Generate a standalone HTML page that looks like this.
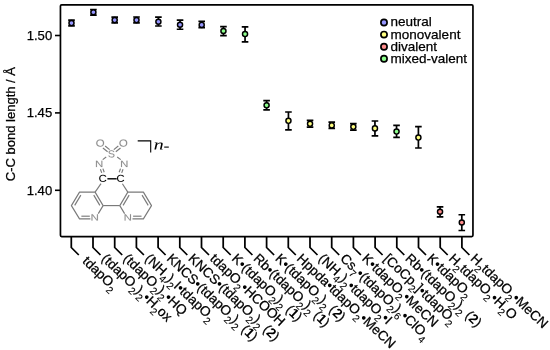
<!DOCTYPE html>
<html><head><meta charset="utf-8"><title>C-C bond length</title>
<style>html,body{margin:0;padding:0;background:#fff;}body{width:550px;height:350px;overflow:hidden;}svg{display:block;will-change:transform;}text{font-family:"Liberation Sans",sans-serif;fill:#000;}.ser{font-family:"Liberation Serif",serif;font-style:italic;}.g{fill:#8a8a8a;}.bd{stroke:#000;stroke-width:0.25px;}</style></head><body>
<svg width="550" height="350" viewBox="0 0 550 350">
<rect width="550" height="350" fill="#fff"/>
<rect x="60.45" y="4.90" width="412.50" height="231.65" fill="none" stroke="#000" stroke-width="1.70" stroke-linejoin="round" rx="1.2"/>
<line x1="55.0" y1="35.50" x2="60.45" y2="35.50" stroke="#000" stroke-width="1.60"/>
<text x="52.2" y="39.90" font-size="13.1" text-anchor="end" class="bd">1.50</text>
<line x1="55.0" y1="112.90" x2="60.45" y2="112.90" stroke="#000" stroke-width="1.60"/>
<text x="52.2" y="117.30" font-size="13.1" text-anchor="end" class="bd">1.45</text>
<line x1="55.0" y1="190.30" x2="60.45" y2="190.30" stroke="#000" stroke-width="1.60"/>
<text x="52.2" y="194.70" font-size="13.1" text-anchor="end" class="bd">1.40</text>
<text transform="translate(15.3,181.2) rotate(-90)" font-size="13" class="bd">C-C bond length / &#197;</text>
<polyline points="71.30,236.55 71.30,247.50 78.80,255.00" fill="none" stroke="#000" stroke-width="1.75" stroke-linejoin="miter"/>
<polyline points="93.00,236.55 93.00,247.50 100.50,255.00" fill="none" stroke="#000" stroke-width="1.75" stroke-linejoin="miter"/>
<polyline points="114.70,236.55 114.70,247.50 122.20,255.00" fill="none" stroke="#000" stroke-width="1.75" stroke-linejoin="miter"/>
<polyline points="136.40,236.55 136.40,247.50 143.90,255.00" fill="none" stroke="#000" stroke-width="1.75" stroke-linejoin="miter"/>
<polyline points="158.10,236.55 158.10,247.50 165.60,255.00" fill="none" stroke="#000" stroke-width="1.75" stroke-linejoin="miter"/>
<polyline points="179.80,236.55 179.80,247.50 187.30,255.00" fill="none" stroke="#000" stroke-width="1.75" stroke-linejoin="miter"/>
<polyline points="201.50,236.55 201.50,247.50 209.00,255.00" fill="none" stroke="#000" stroke-width="1.75" stroke-linejoin="miter"/>
<polyline points="223.20,236.55 223.20,247.50 230.70,255.00" fill="none" stroke="#000" stroke-width="1.75" stroke-linejoin="miter"/>
<polyline points="244.90,236.55 244.90,247.50 252.40,255.00" fill="none" stroke="#000" stroke-width="1.75" stroke-linejoin="miter"/>
<polyline points="266.60,236.55 266.60,247.50 274.10,255.00" fill="none" stroke="#000" stroke-width="1.75" stroke-linejoin="miter"/>
<polyline points="288.30,236.55 288.30,247.50 295.80,255.00" fill="none" stroke="#000" stroke-width="1.75" stroke-linejoin="miter"/>
<polyline points="310.00,236.55 310.00,247.50 317.50,255.00" fill="none" stroke="#000" stroke-width="1.75" stroke-linejoin="miter"/>
<polyline points="331.70,236.55 331.70,247.50 339.20,255.00" fill="none" stroke="#000" stroke-width="1.75" stroke-linejoin="miter"/>
<polyline points="353.40,236.55 353.40,247.50 360.90,255.00" fill="none" stroke="#000" stroke-width="1.75" stroke-linejoin="miter"/>
<polyline points="375.10,236.55 375.10,247.50 382.60,255.00" fill="none" stroke="#000" stroke-width="1.75" stroke-linejoin="miter"/>
<polyline points="396.80,236.55 396.80,247.50 404.30,255.00" fill="none" stroke="#000" stroke-width="1.75" stroke-linejoin="miter"/>
<polyline points="418.50,236.55 418.50,247.50 426.00,255.00" fill="none" stroke="#000" stroke-width="1.75" stroke-linejoin="miter"/>
<polyline points="440.20,236.55 440.20,247.50 447.70,255.00" fill="none" stroke="#000" stroke-width="1.75" stroke-linejoin="miter"/>
<polyline points="461.90,236.55 461.90,247.50 469.40,255.00" fill="none" stroke="#000" stroke-width="1.75" stroke-linejoin="miter"/>
<text transform="translate(81.71,262.08) rotate(43.50)" font-size="13.50" xml:space="preserve" stroke="#000" stroke-width="0.25"><tspan dx="0.00" dy="-0.00">tdapO</tspan><tspan font-size="10.00" stroke-width="0.1" dy="4.70">2</tspan></text>
<text transform="translate(100.80,259.60) rotate(43.50)" font-size="13.50" xml:space="preserve" stroke="#000" stroke-width="0.25"><tspan dx="0.00" dy="-0.00">(tdapO</tspan><tspan font-size="10.00" stroke-width="0.1" dy="4.70">2</tspan><tspan dx="0.00" dy="-4.70">)</tspan><tspan font-size="10.00" stroke-width="0.1" dy="4.70">2</tspan><tspan stroke="none" dy="-4.70">•</tspan><tspan dx="0.00" dy="0.00">H</tspan><tspan font-size="10.00" stroke-width="0.1" dy="4.70">2</tspan><tspan dx="0.00" dy="-4.70">ox</tspan></text>
<text transform="translate(122.50,259.60) rotate(43.50)" font-size="13.50" xml:space="preserve" stroke="#000" stroke-width="0.25"><tspan dx="0.00" dy="-0.00">(tdapO</tspan><tspan font-size="10.00" stroke-width="0.1" dy="4.70">2</tspan><tspan dx="0.00" dy="-4.70">)</tspan><tspan font-size="10.00" stroke-width="0.1" dy="4.70">2</tspan><tspan stroke="none" dy="-4.70">•</tspan><tspan dx="0.00" dy="0.00">HQ</tspan></text>
<text transform="translate(144.20,259.60) rotate(43.50)" font-size="13.50" xml:space="preserve" stroke="#000" stroke-width="0.25"><tspan dx="0.00" dy="-0.00">(NH</tspan><tspan font-size="10.00" stroke-width="0.1" dy="4.70">4</tspan><tspan dx="0.00" dy="-4.70">)</tspan><tspan font-size="10.00" stroke-width="0.1" dy="4.70">2</tspan><tspan dx="0.00" dy="-4.70">I</tspan><tspan stroke="none" dy="0.00">•</tspan><tspan dx="0.00" dy="0.00">tdapO</tspan><tspan font-size="10.00" stroke-width="0.1" dy="4.70">2</tspan></text>
<text transform="translate(165.90,259.60) rotate(43.50)" font-size="13.50" xml:space="preserve" stroke="#000" stroke-width="0.25"><tspan dx="0.00" dy="-0.00">KNCS</tspan><tspan stroke="none" dy="0.00">•</tspan><tspan dx="0.00" dy="0.00">(tdapO</tspan><tspan font-size="10.00" stroke-width="0.1" dy="4.70">2</tspan><tspan dx="0.00" dy="-4.70">)</tspan><tspan font-size="10.00" stroke-width="0.1" dy="4.70">2</tspan><tspan dx="0.00" dy="-4.70"> (</tspan><tspan font-weight="bold" stroke="none" dy="0.00">1</tspan><tspan dx="0.00" dy="0.00">)</tspan></text>
<text transform="translate(187.60,259.60) rotate(43.50)" font-size="13.50" xml:space="preserve" stroke="#000" stroke-width="0.25"><tspan dx="0.00" dy="-0.00">KNCS</tspan><tspan stroke="none" dy="0.00">•</tspan><tspan dx="0.00" dy="0.00">(tdapO</tspan><tspan font-size="10.00" stroke-width="0.1" dy="4.70">2</tspan><tspan dx="0.00" dy="-4.70">)</tspan><tspan font-size="10.00" stroke-width="0.1" dy="4.70">2</tspan><tspan dx="0.00" dy="-4.70"> (</tspan><tspan font-weight="bold" stroke="none" dy="0.00">2</tspan><tspan dx="0.00" dy="0.00">)</tspan></text>
<text transform="translate(209.30,259.60) rotate(43.50)" font-size="13.50" xml:space="preserve" stroke="#000" stroke-width="0.25"><tspan dx="0.00" dy="-0.00">tdapO</tspan><tspan font-size="10.00" stroke-width="0.1" dy="4.70">2</tspan><tspan stroke="none" dy="-4.70">•</tspan><tspan dx="0.00" dy="0.00">HCOOH</tspan></text>
<text transform="translate(231.00,259.60) rotate(43.50)" font-size="13.50" xml:space="preserve" stroke="#000" stroke-width="0.25"><tspan dx="0.00" dy="-0.00">K</tspan><tspan stroke="none" dy="0.00">•</tspan><tspan dx="0.00" dy="0.00">(tdapO</tspan><tspan font-size="10.00" stroke-width="0.1" dy="4.70">2</tspan><tspan dx="0.00" dy="-4.70">)</tspan><tspan font-size="10.00" stroke-width="0.1" dy="4.70">2</tspan><tspan dx="0.00" dy="-4.70"> (</tspan><tspan font-weight="bold" stroke="none" dy="0.00">1</tspan><tspan dx="0.00" dy="0.00">)</tspan></text>
<text transform="translate(252.70,259.60) rotate(43.50)" font-size="13.50" xml:space="preserve" stroke="#000" stroke-width="0.25"><tspan dx="0.00" dy="-0.00">Rb</tspan><tspan stroke="none" dy="0.00">•</tspan><tspan dx="0.00" dy="0.00">(tdapO</tspan><tspan font-size="10.00" stroke-width="0.1" dy="4.70">2</tspan><tspan dx="0.00" dy="-4.70">)</tspan><tspan font-size="10.00" stroke-width="0.1" dy="4.70">2</tspan><tspan dx="0.00" dy="-4.70"> (</tspan><tspan font-weight="bold" stroke="none" dy="0.00">1</tspan><tspan dx="0.00" dy="0.00">)</tspan></text>
<text transform="translate(274.40,259.60) rotate(43.50)" font-size="13.50" xml:space="preserve" stroke="#000" stroke-width="0.25"><tspan dx="0.00" dy="-0.00">K</tspan><tspan stroke="none" dy="0.00">•</tspan><tspan dx="0.00" dy="0.00">(tdapO</tspan><tspan font-size="10.00" stroke-width="0.1" dy="4.70">2</tspan><tspan dx="0.00" dy="-4.70">)</tspan><tspan font-size="10.00" stroke-width="0.1" dy="4.70">2</tspan><tspan dx="0.00" dy="-4.70"> (</tspan><tspan font-weight="bold" stroke="none" dy="0.00">2</tspan><tspan dx="0.00" dy="0.00">)</tspan></text>
<text transform="translate(296.10,259.60) rotate(43.50)" font-size="13.50" xml:space="preserve" stroke="#000" stroke-width="0.25"><tspan dx="0.00" dy="-0.00">Hppda</tspan><tspan stroke="none" dy="0.00">•</tspan><tspan dx="0.00" dy="0.00">tdapO</tspan><tspan font-size="10.00" stroke-width="0.1" dy="4.70">2</tspan><tspan stroke="none" dy="-4.70">•</tspan><tspan dx="0.00" dy="0.00">MeCN</tspan></text>
<text transform="translate(317.80,259.60) rotate(43.50)" font-size="13.50" xml:space="preserve" stroke="#000" stroke-width="0.25"><tspan dx="0.00" dy="-0.00">(NH</tspan><tspan font-size="10.00" stroke-width="0.1" dy="4.70">4</tspan><tspan dx="0.00" dy="-4.70">)</tspan><tspan font-size="10.00" stroke-width="0.1" dy="4.70">2</tspan><tspan stroke="none" dy="-4.70">•</tspan><tspan dx="0.00" dy="0.00">tdapO</tspan><tspan font-size="10.00" stroke-width="0.1" dy="4.70">2</tspan><tspan stroke="none" dy="-4.70">•</tspan><tspan dx="0.00" dy="0.00">I</tspan></text>
<text transform="translate(339.50,259.60) rotate(43.50)" font-size="13.50" xml:space="preserve" stroke="#000" stroke-width="0.25"><tspan dx="0.00" dy="-0.00">Cs</tspan><tspan font-size="10.00" stroke-width="0.1" dy="4.70">7</tspan><tspan stroke="none" dy="-4.70">•</tspan><tspan dx="0.00" dy="0.00">(tdapO</tspan><tspan font-size="10.00" stroke-width="0.1" dy="4.70">2</tspan><tspan dx="0.00" dy="-4.70">)</tspan><tspan font-size="10.00" stroke-width="0.1" dy="4.70">6</tspan><tspan stroke="none" dy="-4.70">•</tspan><tspan dx="0.00" dy="0.00">ClO</tspan><tspan font-size="10.00" stroke-width="0.1" dy="4.70">4</tspan></text>
<text transform="translate(361.20,259.60) rotate(43.50)" font-size="13.50" xml:space="preserve" stroke="#000" stroke-width="0.25"><tspan dx="0.00" dy="-0.00">K</tspan><tspan stroke="none" dy="0.00">•</tspan><tspan dx="0.00" dy="0.00">tdapO</tspan><tspan font-size="10.00" stroke-width="0.1" dy="4.70">2</tspan><tspan stroke="none" dy="-4.70">•</tspan><tspan dx="0.00" dy="0.00">MeCN</tspan></text>
<text transform="translate(382.90,259.60) rotate(43.50)" font-size="13.50" xml:space="preserve" stroke="#000" stroke-width="0.25"><tspan dx="0.00" dy="-0.00">[CoCp</tspan><tspan font-size="10.00" stroke-width="0.1" dy="4.70">2</tspan><tspan dx="0.00" dy="-4.70">]</tspan><tspan stroke="none" dy="0.00">•</tspan><tspan dx="0.00" dy="0.00">tdapO</tspan><tspan font-size="10.00" stroke-width="0.1" dy="4.70">2</tspan></text>
<text transform="translate(404.60,259.60) rotate(43.50)" font-size="13.50" xml:space="preserve" stroke="#000" stroke-width="0.25"><tspan dx="0.00" dy="-0.00">Rb</tspan><tspan stroke="none" dy="0.00">•</tspan><tspan dx="0.00" dy="0.00">(tdapO</tspan><tspan font-size="10.00" stroke-width="0.1" dy="4.70">2</tspan><tspan dx="0.00" dy="-4.70">)</tspan><tspan font-size="10.00" stroke-width="0.1" dy="4.70">2</tspan><tspan dx="0.00" dy="-4.70"> (</tspan><tspan font-weight="bold" stroke="none" dy="0.00">2</tspan><tspan dx="0.00" dy="0.00">)</tspan></text>
<text transform="translate(426.30,259.60) rotate(43.50)" font-size="13.50" xml:space="preserve" stroke="#000" stroke-width="0.25"><tspan dx="0.00" dy="-0.00">K</tspan><tspan stroke="none" dy="0.00">•</tspan><tspan dx="0.00" dy="0.00">tdapO</tspan><tspan font-size="10.00" stroke-width="0.1" dy="4.70">2</tspan></text>
<text transform="translate(448.00,259.60) rotate(43.50)" font-size="13.50" xml:space="preserve" stroke="#000" stroke-width="0.25"><tspan dx="0.00" dy="-0.00">H</tspan><tspan font-size="10.00" stroke-width="0.1" dy="4.70">2</tspan><tspan dx="0.00" dy="-4.70">tdapO</tspan><tspan font-size="10.00" stroke-width="0.1" dy="4.70">2</tspan><tspan stroke="none" dy="-4.70">•</tspan><tspan dx="0.00" dy="0.00">H</tspan><tspan font-size="10.00" stroke-width="0.1" dy="4.70">2</tspan><tspan dx="0.00" dy="-4.70">O</tspan></text>
<text transform="translate(469.70,259.60) rotate(43.50)" font-size="13.50" xml:space="preserve" stroke="#000" stroke-width="0.25"><tspan dx="0.00" dy="-0.00">H</tspan><tspan font-size="10.00" stroke-width="0.1" dy="4.70">2</tspan><tspan dx="0.00" dy="-4.70">tdapO</tspan><tspan font-size="10.00" stroke-width="0.1" dy="4.70">2</tspan><tspan stroke="none" dy="-4.70">•</tspan><tspan dx="0.00" dy="0.00">MeCN</tspan></text>
<path d="M68.20,20.20 H74.80 M68.20,25.80 H74.80 M71.50,20.20 V25.80" stroke="#000" stroke-width="1.7" fill="none"/>
<circle cx="71.50" cy="23.05" r="2.55" fill="#9696ff" stroke="#000" stroke-width="1.45"/>
<path d="M90.10,9.50 H96.70 M90.10,15.05 H96.70 M93.40,9.50 V15.05" stroke="#000" stroke-width="1.7" fill="none"/>
<circle cx="93.40" cy="12.20" r="2.55" fill="#9696ff" stroke="#000" stroke-width="1.45"/>
<path d="M111.40,17.20 H118.00 M111.40,22.80 H118.00 M114.70,17.20 V22.80" stroke="#000" stroke-width="1.7" fill="none"/>
<circle cx="114.70" cy="20.10" r="2.55" fill="#9696ff" stroke="#000" stroke-width="1.45"/>
<path d="M133.20,17.00 H139.80 M133.20,22.90 H139.80 M136.50,17.00 V22.90" stroke="#000" stroke-width="1.7" fill="none"/>
<circle cx="136.50" cy="20.10" r="2.55" fill="#9696ff" stroke="#000" stroke-width="1.45"/>
<path d="M155.10,17.05 H161.70 M155.10,26.00 H161.70 M158.40,17.05 V26.00" stroke="#000" stroke-width="1.7" fill="none"/>
<circle cx="158.40" cy="21.70" r="2.55" fill="#9696ff" stroke="#000" stroke-width="1.45"/>
<path d="M176.75,20.10 H183.35 M176.75,29.25 H183.35 M180.05,20.10 V29.25" stroke="#000" stroke-width="1.7" fill="none"/>
<circle cx="180.05" cy="24.70" r="2.55" fill="#9696ff" stroke="#000" stroke-width="1.45"/>
<path d="M198.40,21.45 H205.00 M198.40,27.65 H205.00 M201.70,21.45 V27.65" stroke="#000" stroke-width="1.7" fill="none"/>
<circle cx="201.70" cy="24.90" r="2.55" fill="#9696ff" stroke="#000" stroke-width="1.45"/>
<path d="M220.15,26.55 H226.75 M220.15,35.55 H226.75 M223.45,26.55 V35.55" stroke="#000" stroke-width="1.7" fill="none"/>
<circle cx="223.45" cy="31.00" r="2.55" fill="#8cff8c" stroke="#000" stroke-width="1.45"/>
<path d="M241.75,26.80 H248.35 M241.75,41.90 H248.35 M245.05,26.80 V41.90" stroke="#000" stroke-width="1.7" fill="none"/>
<circle cx="245.05" cy="34.10" r="2.55" fill="#8cff8c" stroke="#000" stroke-width="1.45"/>
<path d="M263.30,100.70 H269.90 M263.30,109.90 H269.90 M266.60,100.70 V109.90" stroke="#000" stroke-width="1.7" fill="none"/>
<circle cx="266.60" cy="105.30" r="2.55" fill="#8cff8c" stroke="#000" stroke-width="1.45"/>
<path d="M285.15,112.00 H291.75 M285.15,129.95 H291.75 M288.45,112.00 V129.95" stroke="#000" stroke-width="1.7" fill="none"/>
<circle cx="288.45" cy="120.80" r="2.55" fill="#ffff80" stroke="#000" stroke-width="1.45"/>
<path d="M306.75,120.45 H313.35 M306.75,127.20 H313.35 M310.05,120.45 V127.20" stroke="#000" stroke-width="1.7" fill="none"/>
<circle cx="310.05" cy="123.80" r="2.55" fill="#ffff80" stroke="#000" stroke-width="1.45"/>
<path d="M328.45,122.10 H335.05 M328.45,128.40 H335.05 M331.75,122.10 V128.40" stroke="#000" stroke-width="1.7" fill="none"/>
<circle cx="331.75" cy="125.40" r="2.55" fill="#ffff80" stroke="#000" stroke-width="1.45"/>
<path d="M350.05,123.60 H356.65 M350.05,130.10 H356.65 M353.35,123.60 V130.10" stroke="#000" stroke-width="1.7" fill="none"/>
<circle cx="353.35" cy="126.80" r="2.55" fill="#ffff80" stroke="#000" stroke-width="1.45"/>
<path d="M371.65,121.00 H378.25 M371.65,135.80 H378.25 M374.95,121.00 V135.80" stroke="#000" stroke-width="1.7" fill="none"/>
<circle cx="374.95" cy="128.40" r="2.55" fill="#ffff80" stroke="#000" stroke-width="1.45"/>
<path d="M393.25,125.35 H399.85 M393.25,137.45 H399.85 M396.55,125.35 V137.45" stroke="#000" stroke-width="1.7" fill="none"/>
<circle cx="396.55" cy="131.55" r="2.55" fill="#8cff8c" stroke="#000" stroke-width="1.45"/>
<path d="M415.10,126.65 H421.70 M415.10,148.00 H421.70 M418.40,126.65 V148.00" stroke="#000" stroke-width="1.7" fill="none"/>
<circle cx="418.40" cy="137.55" r="2.55" fill="#ffff80" stroke="#000" stroke-width="1.45"/>
<path d="M436.75,206.85 H443.35 M436.75,216.85 H443.35 M440.05,206.85 V216.85" stroke="#000" stroke-width="1.7" fill="none"/>
<circle cx="440.05" cy="211.70" r="2.55" fill="#ff8c8c" stroke="#000" stroke-width="1.45"/>
<path d="M458.50,214.75 H465.10 M458.50,230.50 H465.10 M461.80,214.75 V230.50" stroke="#000" stroke-width="1.7" fill="none"/>
<circle cx="461.80" cy="222.50" r="2.55" fill="#ff8c8c" stroke="#000" stroke-width="1.45"/>
<circle cx="384.0" cy="22.50" r="3.1" fill="#9696ff" stroke="#000" stroke-width="1.7"/>
<text x="390.6" y="26.00" font-size="13.5" class="bd">neutral</text>
<circle cx="384.0" cy="34.60" r="3.1" fill="#ffff80" stroke="#000" stroke-width="1.7"/>
<text x="390.6" y="38.60" font-size="13.5" class="bd">monovalent</text>
<circle cx="384.0" cy="46.70" r="3.1" fill="#ff8c8c" stroke="#000" stroke-width="1.7"/>
<text x="390.6" y="50.60" font-size="13.5" class="bd">divalent</text>
<circle cx="384.0" cy="58.80" r="3.1" fill="#8cff8c" stroke="#000" stroke-width="1.7"/>
<text x="390.6" y="62.90" font-size="13.5" class="bd">mixed-valent</text>
<g stroke="#7a7a7a" stroke-width="1.15" fill="none" stroke-linecap="butt">
<polyline points="90.42,218.90 79.50,218.90 71.40,205.60 79.50,192.10 95.10,192.10 103.10,205.60 98.30,213.58" stroke-linejoin="round"/>
<line x1="74.69" y1="205.37" x2="80.84" y2="195.11"/>
<line x1="93.74" y1="195.10" x2="99.82" y2="205.36"/>
<line x1="89.80" y1="216.20" x2="81.37" y2="216.20"/>
<polyline points="132.48,218.90 143.40,218.90 151.50,205.60 143.40,192.10 127.80,192.10 119.80,205.60 124.60,213.58" stroke-linejoin="round"/>
<line x1="148.21" y1="205.37" x2="142.06" y2="195.11"/>
<line x1="129.16" y1="195.10" x2="123.08" y2="205.36"/>
<line x1="133.10" y1="216.20" x2="141.53" y2="216.20"/>
<line x1="103.10" y1="205.60" x2="119.80" y2="205.60"/>
<line x1="101.00" y1="183.70" x2="95.10" y2="192.10"/>
<line x1="106.20" y1="157.00" x2="102.70" y2="159.60"/>
<line x1="102.90" y1="148.00" x2="107.60" y2="151.70"/>
<line x1="105.10" y1="146.00" x2="109.60" y2="149.60"/>
<line x1="100.40" y1="169.30" x2="101.70" y2="172.90"/>
<line x1="102.90" y1="168.60" x2="104.20" y2="172.20"/>
<line x1="122.40" y1="183.70" x2="127.80" y2="192.10"/>
<line x1="117.20" y1="157.00" x2="120.70" y2="159.60"/>
<line x1="120.50" y1="148.00" x2="115.80" y2="151.70"/>
<line x1="118.30" y1="146.00" x2="113.80" y2="149.60"/>
<line x1="123.00" y1="169.30" x2="121.70" y2="172.90"/>
<line x1="120.50" y1="168.60" x2="119.20" y2="172.20"/>
</g>
<line x1="107.4" y1="178.8" x2="116.7" y2="178.8" stroke="#000" stroke-width="1.4"/>
<path transform="translate(100.15,143.05) scale(0.00565,-0.00497) translate(-796.0,-705.0)" d="M1495 711Q1495 490 1410.5 324.0Q1326 158 1168.0 69.0Q1010 -20 795 -20Q578 -20 420.5 68.0Q263 156 180.0 322.5Q97 489 97 711Q97 1049 282.0 1239.5Q467 1430 797 1430Q1012 1430 1170.0 1344.5Q1328 1259 1411.5 1096.0Q1495 933 1495 711ZM1300 711Q1300 974 1168.5 1124.0Q1037 1274 797 1274Q555 1274 423.0 1126.0Q291 978 291 711Q291 446 424.5 290.5Q558 135 795 135Q1039 135 1169.5 285.5Q1300 436 1300 711Z" fill="#8c8c8c" stroke="#8c8c8c" stroke-width="26.4"/>
<path transform="translate(123.30,143.05) scale(0.00565,-0.00497) translate(-796.0,-705.0)" d="M1495 711Q1495 490 1410.5 324.0Q1326 158 1168.0 69.0Q1010 -20 795 -20Q578 -20 420.5 68.0Q263 156 180.0 322.5Q97 489 97 711Q97 1049 282.0 1239.5Q467 1430 797 1430Q1012 1430 1170.0 1344.5Q1328 1259 1411.5 1096.0Q1495 933 1495 711ZM1300 711Q1300 974 1168.5 1124.0Q1037 1274 797 1274Q555 1274 423.0 1126.0Q291 978 291 711Q291 446 424.5 290.5Q558 135 795 135Q1039 135 1169.5 285.5Q1300 436 1300 711Z" fill="#8c8c8c" stroke="#8c8c8c" stroke-width="26.4"/>
<path transform="translate(111.40,153.90) scale(0.00526,-0.00490) translate(-682.5,-705.0)" d="M1272 389Q1272 194 1119.5 87.0Q967 -20 690 -20Q175 -20 93 338L278 375Q310 248 414.0 188.5Q518 129 697 129Q882 129 982.5 192.5Q1083 256 1083 379Q1083 448 1051.5 491.0Q1020 534 963.0 562.0Q906 590 827.0 609.0Q748 628 652 650Q485 687 398.5 724.0Q312 761 262.0 806.5Q212 852 185.5 913.0Q159 974 159 1053Q159 1234 297.5 1332.0Q436 1430 694 1430Q934 1430 1061.0 1356.5Q1188 1283 1239 1106L1051 1073Q1020 1185 933.0 1235.5Q846 1286 692 1286Q523 1286 434.0 1230.0Q345 1174 345 1063Q345 998 379.5 955.5Q414 913 479.0 883.5Q544 854 738 811Q803 796 867.5 780.5Q932 765 991.0 743.5Q1050 722 1101.5 693.0Q1153 664 1191.0 622.0Q1229 580 1250.5 523.0Q1272 466 1272 389Z" fill="#8c8c8c" stroke="#8c8c8c" stroke-width="27.6"/>
<path transform="translate(99.15,163.90) scale(0.00559,-0.00454) translate(-740.0,-704.5)" d="M1082 0 328 1200 333 1103 338 936V0H168V1409H390L1152 201Q1140 397 1140 485V1409H1312V0Z" fill="#8c8c8c" stroke="#8c8c8c" stroke-width="27.6"/>
<path transform="translate(124.26,163.90) scale(0.00559,-0.00454) translate(-740.0,-704.5)" d="M1082 0 328 1200 333 1103 338 936V0H168V1409H390L1152 201Q1140 397 1140 485V1409H1312V0Z" fill="#8c8c8c" stroke="#8c8c8c" stroke-width="27.6"/>
<path transform="translate(94.70,217.40) scale(0.00559,-0.00447) translate(-740.0,-704.5)" d="M1082 0 328 1200 333 1103 338 936V0H168V1409H390L1152 201Q1140 397 1140 485V1409H1312V0Z" fill="#8c8c8c" stroke="#8c8c8c" stroke-width="27.8"/>
<path transform="translate(127.80,217.40) scale(0.00559,-0.00447) translate(-740.0,-704.5)" d="M1082 0 328 1200 333 1103 338 936V0H168V1409H390L1152 201Q1140 397 1140 485V1409H1312V0Z" fill="#8c8c8c" stroke="#8c8c8c" stroke-width="27.8"/>
<path transform="translate(102.80,178.40) scale(0.00555,-0.00490) translate(-752.5,-705.0)" d="M792 1274Q558 1274 428.0 1123.5Q298 973 298 711Q298 452 433.5 294.5Q569 137 800 137Q1096 137 1245 430L1401 352Q1314 170 1156.5 75.0Q999 -20 791 -20Q578 -20 422.5 68.5Q267 157 185.5 321.5Q104 486 104 711Q104 1048 286.0 1239.0Q468 1430 790 1430Q1015 1430 1166.0 1342.0Q1317 1254 1388 1081L1207 1021Q1158 1144 1049.5 1209.0Q941 1274 792 1274Z" fill="#000" stroke="#000" stroke-width="11.5"/>
<path transform="translate(120.60,178.40) scale(0.00555,-0.00490) translate(-752.5,-705.0)" d="M792 1274Q558 1274 428.0 1123.5Q298 973 298 711Q298 452 433.5 294.5Q569 137 800 137Q1096 137 1245 430L1401 352Q1314 170 1156.5 75.0Q999 -20 791 -20Q578 -20 422.5 68.5Q267 157 185.5 321.5Q104 486 104 711Q104 1048 286.0 1239.0Q468 1430 790 1430Q1015 1430 1166.0 1342.0Q1317 1254 1388 1081L1207 1021Q1158 1144 1049.5 1209.0Q941 1274 792 1274Z" fill="#000" stroke="#000" stroke-width="11.5"/>
<path d="M137.7,140.9 H150.7 V152.6" fill="none" stroke="#000" stroke-width="1.1"/>
<path transform="translate(158.65,146.00) scale(0.00982,-0.00746) translate(-506.0,-482.5)" d="M755 748Q755 793 731.0 821.0Q707 849 655 849Q581 849 493.5 786.0Q406 723 349 630L239 0H73L226 871L108 896L116 941H394L367 749Q451 857 541.0 911.0Q631 965 718 965Q819 965 870.0 910.5Q921 856 921 754Q921 740 917.0 711.0Q913 682 808 69L939 45L931 0H630L732 582Q755 709 755 748Z" fill="#000" stroke="#000" stroke-width="0.0"/>
<path transform="translate(166.50,147.10) scale(0.00865,-0.00719) translate(-342.0,-482.5)" d="M76 406V559H608V406Z" fill="#000" stroke="#000" stroke-width="0.0"/>
</svg></body></html>
